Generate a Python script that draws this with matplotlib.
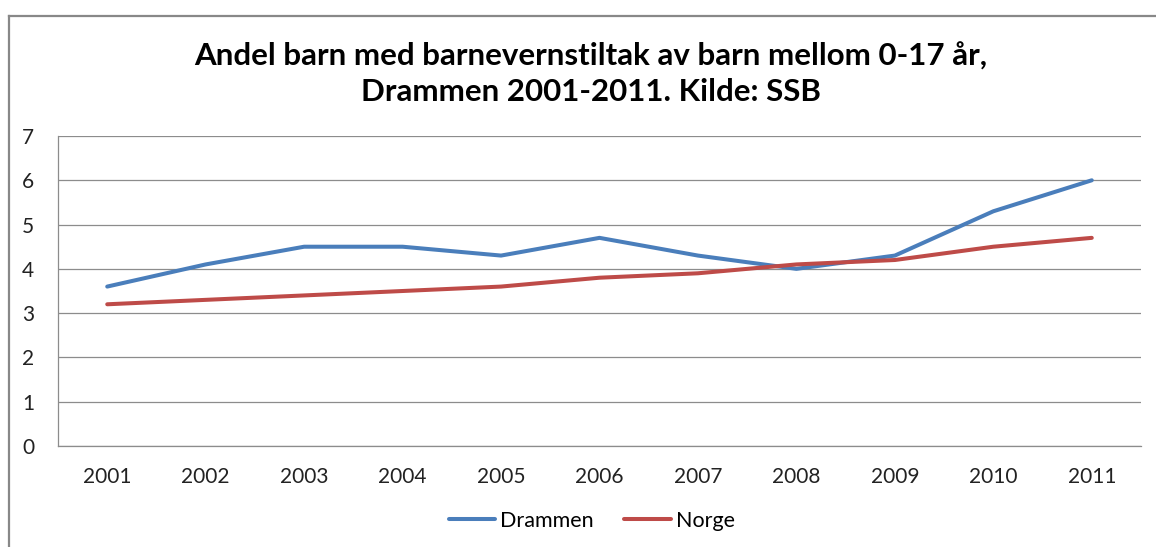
import matplotlib.pyplot as plt
from matplotlib.lines import Line2D

# data
years = ['2001', '2002', '2003', '2004', '2005', '2006', '2007', '2008', '2009', '2010', '2011']
drammen = [3.6, 4.1, 4.5, 4.5, 4.3, 4.7, 4.3, 4.0, 4.3, 5.3, 6.0]
norge = [3.2, 3.3, 3.4, 3.5, 3.6, 3.8, 3.9, 4.1, 4.2, 4.5, 4.7]
yticks = [0, 1, 2, 3, 4, 5, 6, 7]

plt.rcParams['font.family'] = ['Lato', 'DejaVu Sans']

W, H = 1156, 547
fig = plt.figure(figsize=(W / 100, H / 100), dpi=100)
ax = fig.add_axes([58 / W, 1 - 446 / H, (1141 - 58) / W, (446 - 136) / H])

x = range(len(years))
ax.plot(x, drammen, color='#4A7EBB', lw=2.9, label='Drammen', solid_capstyle='round')
ax.plot(x, norge, color='#BE4B48', lw=2.9, label='Norge', solid_capstyle='round')

ax.set_xlim(-0.5, len(years) - 0.5)
ax.set_ylim(0, 7)
ax.set_yticks(yticks)
ax.set_xticks(list(x))
ax.set_xticklabels(years)
ax.tick_params(length=0, labelsize=15, colors='#222222')
ax.tick_params(axis='y', pad=17)
ax.tick_params(axis='x', pad=15)
ax.grid(axis='y', color='#8c8c8c', lw=0.9)
ax.set_axisbelow(True)
for s in ['top', 'right']:
    ax.spines[s].set_visible(False)
for s in ['left', 'bottom']:
    ax.spines[s].set_color('#8c8c8c')
    ax.spines[s].set_linewidth(0.9)

fig.text(0.511, 1 - 74 / H, 'Andel barn med barnevernstiltak av barn mellom 0-17 år,\nDrammen 2001-2011. Kilde: SSB',
         ha='center', va='center', fontsize=22.5, fontweight='bold', linespacing=1.3)

leg = fig.legend(loc='center', bbox_to_anchor=(0.512, 1 - 521 / H), ncol=2, frameon=False,
                 fontsize=15.5, handlelength=2.15, handletextpad=0.25, columnspacing=1.4)

# outer chart border (cut off at right and bottom)
fig.add_artist(Line2D([8.5 / W, 8.5 / W], [0, 1 - 15.5 / H], transform=fig.transFigure, color='#888888', lw=1.6))
fig.add_artist(Line2D([8.5 / W, 1], [1 - 15.5 / H, 1 - 15.5 / H], transform=fig.transFigure, color='#888888', lw=1.6))

fig.savefig('out.png', dpi=100)
